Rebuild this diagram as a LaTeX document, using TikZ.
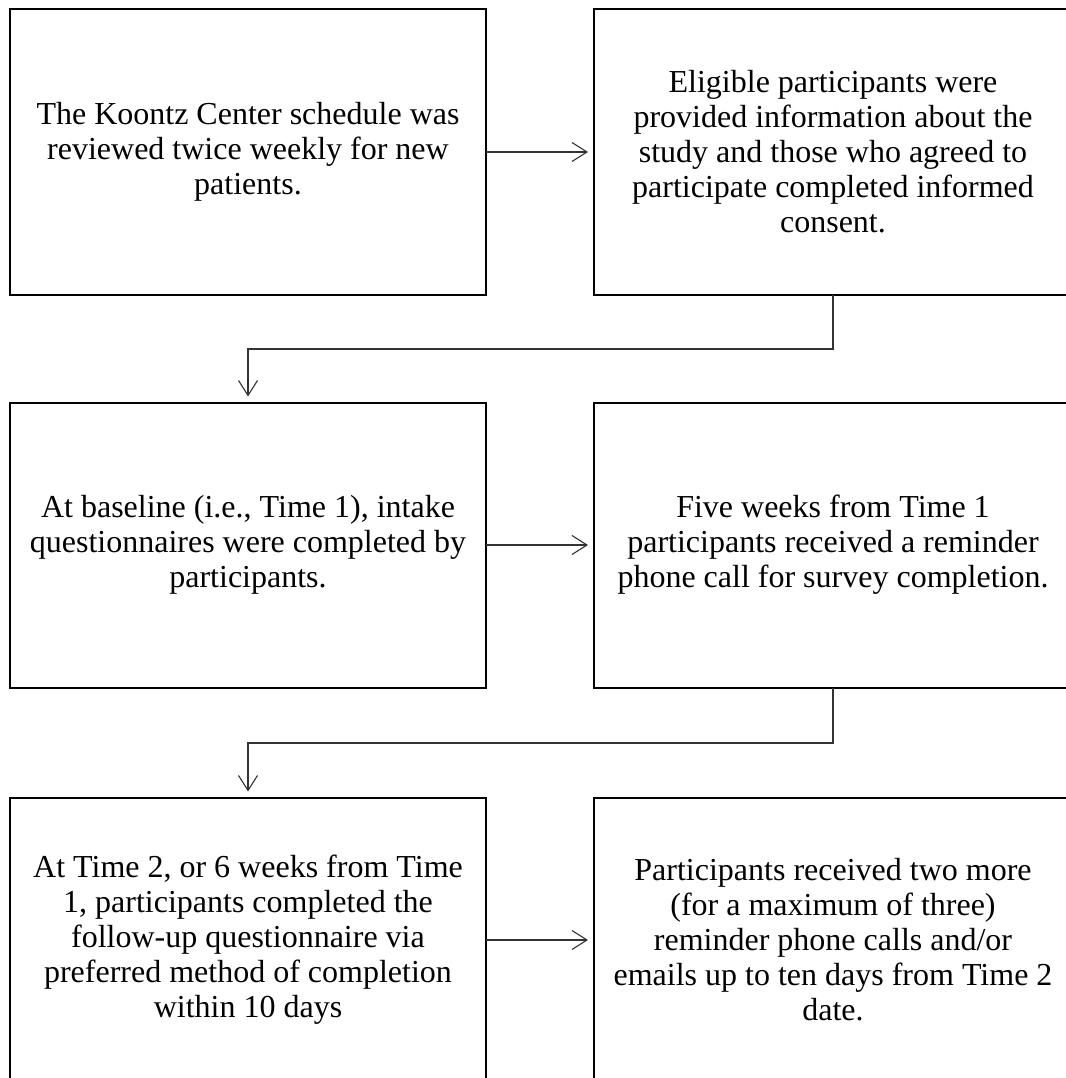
\documentclass[tikz,border=0pt]{standalone}
\usepackage{fontspec}
\setmainfont{Liberation Serif}
\usetikzlibrary{arrows.meta}
\begin{document}
\begin{tikzpicture}[x=1pt,y=1pt,
  box/.style={draw=black, line width=2pt, inner sep=0pt, outer sep=0pt,
    minimum height=285pt, align=center,
    font=\fontsize{32}{35}\selectfont},
  lbox/.style={box, minimum width=476pt},
  rbox/.style={box, minimum width=478pt},
  conn/.style={draw=black!80, line width=1.1pt,
    -{Straight Barb[length=15pt,width=19pt,line width=1.1pt]},
    shorten >=6pt}]
\useasboundingbox (0,0) rectangle (1065,-1078);
\node[lbox] (A) at (248,-152) {The Koontz Center schedule was\\reviewed twice weekly for new\\patients.};
\node[rbox] (B) at (833,-152) {Eligible participants were\\provided information about the\\study and those who agreed to\\participate completed informed\\consent.};
\node[lbox] (C) at (248,-545) {At baseline (i.e., Time 1), intake\\questionnaires were completed by\\participants.};
\node[rbox] (D) at (833,-545) {Five weeks from Time 1\\participants received a reminder\\phone call for survey completion.};
\node[lbox] (E) at (248,-940) {At Time 2, or 6 weeks from Time\\1, participants completed the\\follow-up questionnaire via\\preferred method of completion\\within 10 days};
\node[rbox] (F) at (833,-940) {Participants received two more\\(for a maximum of three)\\reminder phone calls and/or\\emails up to ten days from Time 2\\date.};
\coordinate (k1) at (833,-349);
\coordinate (k2) at (833,-743);
\draw[conn] (A) -- (B);
\draw[conn] (C) -- (D);
\draw[conn] (E) -- (F);
\draw[conn] (B.south) -- (k1) -| (C.north);
\draw[conn] (D.south) -- (k2) -| (E.north);
\end{tikzpicture}
\end{document}
